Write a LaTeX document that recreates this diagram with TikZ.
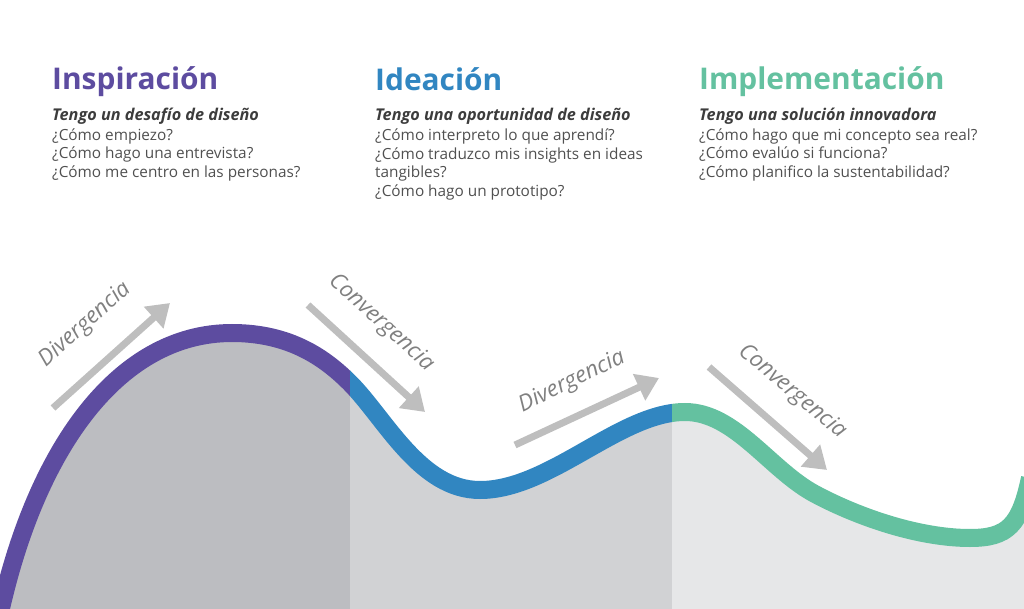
\documentclass[tikz,border=0pt]{standalone}
\usepackage{fontspec}
\setmainfont{Open Sans}
\usetikzlibrary{arrows.meta,positioning}
\definecolor{InspPurple}{RGB}{93,76,160}
\definecolor{IdeaBlue}{RGB}{49,134,193}
\definecolor{ImplGreen}{RGB}{100,193,160}
\definecolor{FillDark}{RGB}{188,189,193}
\definecolor{FillMid}{RGB}{209,210,212}
\definecolor{FillLight}{RGB}{230,231,232}
\definecolor{ArrowGray}{RGB}{190,190,190}
\definecolor{LabelGray}{RGB}{128,128,128}
\definecolor{BodyGray}{RGB}{80,80,80}
\definecolor{SubGray}{RGB}{60,60,60}

% the wave, start to end
\newcommand{\wavepath}{(-2,622) .. controls (33,455) and (115,333) .. (232,333)
  .. controls (290,333) and (325,358) .. (350,383)
  .. controls (385,418) and (420,490) .. (480,490)
  .. controls (550,490) and (620,412) .. (685,412)
  .. controls (735,412) and (770,470) .. (815,494)
  .. controls (860,518) and (920,538) .. (970,538)
  .. controls (1008,538) and (1020,525) .. (1030,478)}

\begin{document}
\begin{tikzpicture}[
  x=1bp, y=-1bp,
  title/.style={anchor=base west, inner sep=0, font=\fontsize{30}{30}\selectfont\bfseries},
  sub/.style={anchor=base west, inner sep=0, text=SubGray, font=\fontsize{16.3}{19}\selectfont\bfseries\itshape},
  body/.style={anchor=base west, inner sep=0, text=BodyGray, font=\fontsize{15.4}{19}\selectfont},
  lbl/.style={inner sep=0, text=LabelGray, font=\fontsize{22.5}{22.5}\selectfont\itshape},
  garrow/.style={ArrowGray, line width=7bp, -{Triangle[length=22bp, width=28bp]}},
  wave/.style={line width=18bp}
]
  \useasboundingbox (0,0) rectangle (1024,609);

  % filled areas under the wave
  \begin{scope}
    \clip (0,0) rectangle (350,609);
    \fill[FillDark] \wavepath -- (1030,640) -- (-2,640) -- cycle;
  \end{scope}
  \begin{scope}
    \clip (350,0) rectangle (672,609);
    \fill[FillMid] \wavepath -- (1030,640) -- (-2,640) -- cycle;
  \end{scope}
  \begin{scope}
    \clip (672,0) rectangle (1024,609);
    \fill[FillLight] \wavepath -- (1030,640) -- (-2,640) -- cycle;
  \end{scope}

  % the wave itself
  \begin{scope}
    \clip (-20,0) rectangle (350,640);
    \draw[wave, InspPurple] \wavepath;
  \end{scope}
  \begin{scope}
    \clip (350,0) rectangle (672,640);
    \draw[wave, IdeaBlue] \wavepath;
  \end{scope}
  \begin{scope}
    \clip (672,0) rectangle (1040,640);
    \draw[wave, ImplGreen] \wavepath;
  \end{scope}

  % headings
  \node[title, text=InspPurple] (inspTitle) at (52,90) {Inspiración};
  \node[sub] (inspSub) at (52,120.5) {Tengo un desafío de diseño};
  \foreach \txt [count=\i] in {¿Cómo empiezo?, ¿Cómo hago una entrevista?, ¿Cómo me centro en las personas?}
    \node[body] (insp\i) at (52,121.5+18.6*\i) {\txt};

  \node[title, text=IdeaBlue] (ideaTitle) at (375,90.5) {Ideación};
  \node[sub] (ideaSub) at (375,121) {Tengo una oportunidad de diseño};
  \foreach \txt [count=\i] in {¿Cómo interpreto lo que aprendí?, ¿Cómo traduzco mis insights en ideas, tangibles?, ¿Cómo hago un prototipo?}
    \node[body] (idea\i) at (375,122+18.6*\i) {\txt};

  \node[title, text=ImplGreen] (implTitle) at (699,90) {Implementación};
  \node[sub] (implSub) at (699,120.5) {Tengo una solución innovadora};
  \foreach \txt [count=\i] in {¿Cómo hago que mi concepto sea real?, ¿Cómo evalúo si funciona?, ¿Cómo planifico la sustentabilidad?}
    \node[body] (impl\i) at (699,121.5+18.6*\i) {\txt};

  % arrows along the wave
  \coordinate (divOneTail) at (53,408);
  \coordinate (divOneTip)  at (170,303);
  \coordinate (conOneTail) at (308,305);
  \coordinate (conOneTip)  at (425,412);
  \coordinate (divTwoTail) at (515,445);
  \coordinate (divTwoTip)  at (659,378);
  \coordinate (conTwoTail) at (709,367);
  \coordinate (conTwoTip)  at (827,470);

  \draw[garrow] (divOneTail) -- (divOneTip);
  \draw[garrow] (conOneTail) -- (conOneTip);
  \draw[garrow] (divTwoTail) -- (divTwoTip);
  \draw[garrow] (conTwoTail) -- (conTwoTip);

  \node[lbl, rotate=42]  (divOne) at (85,325) {Divergencia};
  \node[lbl, rotate=-42] (conOne) at (381,323) {Convergencia};
  \node[lbl, rotate=26]  (divTwo) at (572,382) {Divergencia};
  \node[lbl, rotate=-40] (conTwo) at (792,392) {Convergencia};

\end{tikzpicture}
\end{document}
